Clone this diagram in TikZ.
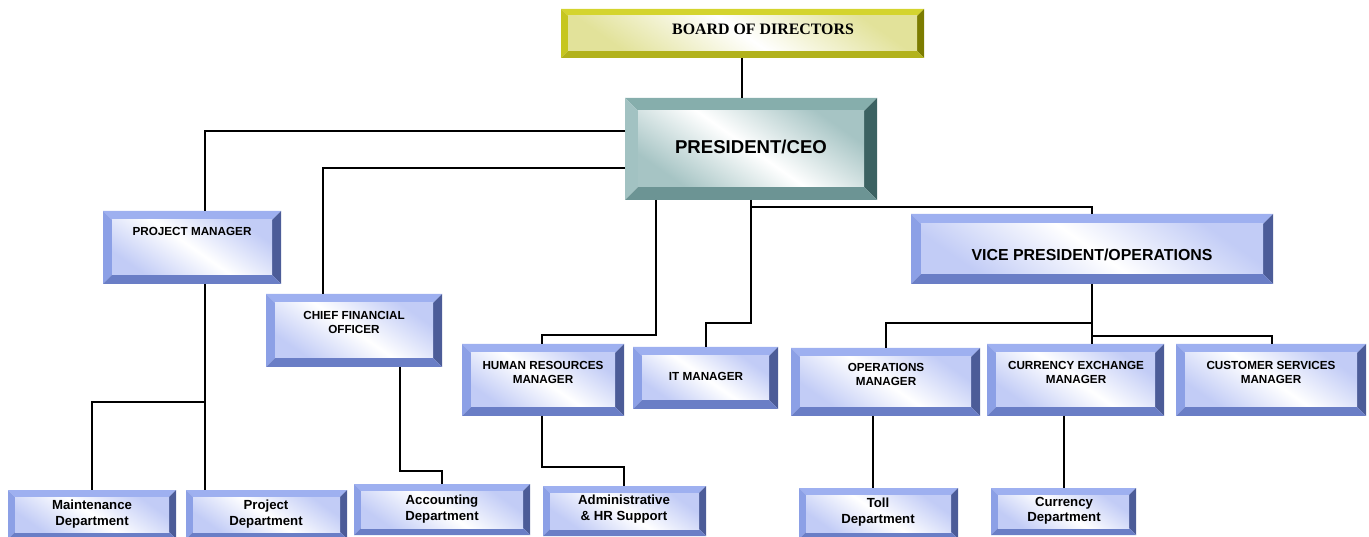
\documentclass[tikz,border=0pt]{standalone}
\usepackage{fontspec}
\setmainfont{Liberation Sans}
\newfontfamily\boardfont{Liberation Serif}
\definecolor{bltop}{HTML}{9EB0F0}
\definecolor{blleft}{HTML}{8CA0E6}
\definecolor{blright}{HTML}{4C5C98}
\definecolor{blbot}{HTML}{6A7EC6}
\definecolor{blface}{HTML}{C2CCF6}
\definecolor{tltop}{HTML}{86AEAC}
\definecolor{tlleft}{HTML}{A2C2C2}
\definecolor{tlright}{HTML}{3C6262}
\definecolor{tlbot}{HTML}{6C9494}
\definecolor{tlface}{HTML}{A6C4C4}
\definecolor{yltop}{HTML}{D4D42E}
\definecolor{ylleft}{HTML}{C6C620}
\definecolor{ylright}{HTML}{7C7C00}
\definecolor{ylbot}{HTML}{B2B21C}
\definecolor{ylface}{HTML}{E2E29A}
\newcommand{\bevbox}[7]{%
 \node[inner sep=0pt, outer sep=0pt, minimum width={(#4-#2)*1pt}, minimum height={(#5-#3)*1pt}] (#1) at ({(#2+#4)/2},{(#3+#5)/2}) {};
 \fill[#7top] (#2,#3) -- (#4,#3) -- (#4-#6,#3+#6) -- (#2+#6,#3+#6) -- cycle;
 \fill[#7left] (#2,#3) -- (#2+#6,#3+#6) -- (#2+#6,#5-#6) -- (#2,#5) -- cycle;
 \fill[#7right] (#4,#3) -- (#4,#5) -- (#4-#6,#5-#6) -- (#4-#6,#3+#6) -- cycle;
 \fill[#7bot] (#2,#5) -- (#2+#6,#5-#6) -- (#4-#6,#5-#6) -- (#4,#5) -- cycle;
 \shade[top color=#7face, bottom color=#7face, middle color=white, shading angle=-35] (#2+#6,#3+#6) rectangle (#4-#6,#5-#6);
}
\tikzset{
 conn/.style={draw=black, line width=2.2pt, line join=miter},
 mgr/.style={font=\bfseries\fontsize{11.7}{14}\selectfont, align=center, inner sep=0pt},
 dept/.style={font=\bfseries\fontsize{13.2}{15.5}\selectfont, align=center, inner sep=0pt},
 ceo/.style={font=\bfseries\fontsize{18.6}{22}\selectfont, inner sep=0pt},
 vpt/.style={font=\bfseries\fontsize{15.9}{19}\selectfont, inner sep=0pt},
 brd/.style={font=\boardfont\bfseries\fontsize{15.9}{19}\selectfont, inner sep=0pt}
}
\begin{document}
\begin{tikzpicture}[x=1pt,y=-1pt]
\useasboundingbox (0,0) rectangle (1369,537);
\clip (0,0) rectangle (1369,537);
% boxes
\bevbox{board}{561}{9}{924}{58}{7}{yl}
\bevbox{pres}{625}{98}{877}{200}{13}{tl}
\bevbox{pm}{103}{211}{281}{284}{9}{bl}
\bevbox{cfo}{266}{294}{442}{367}{9}{bl}
\bevbox{hr}{462}{344}{624}{416}{9}{bl}
\bevbox{it}{633}{347}{778}{409}{9}{bl}
\bevbox{vp}{911}{214}{1273}{284}{10}{bl}
\bevbox{ops}{791}{348}{980}{416}{9}{bl}
\bevbox{cem}{987}{344}{1164}{416}{9}{bl}
\bevbox{csm}{1176}{344}{1366}{416}{9}{bl}
\bevbox{maint}{8}{490}{176}{539}{7}{bl}
\bevbox{projd}{186}{490}{347}{539}{7}{bl}
\bevbox{acct}{354}{484}{530}{535}{7}{bl}
\bevbox{admin}{543}{486}{706}{536}{7}{bl}
\bevbox{toll}{799}{488}{958}{539}{7}{bl}
\bevbox{curd}{991}{488}{1136}{535}{7}{bl}
% texts
\node[brd] (board-t) at (763,29) {BOARD OF DIRECTORS};
\node[ceo] (pres-t) at (751,147) {PRESIDENT/CEO};
\node[mgr] (pm-t) at (192,231) {PROJECT MANAGER};
\node[mgr] (cfo-t) at (354,322) {CHIEF FINANCIAL\\OFFICER};
\node[mgr] (hr-t) at (543,372) {HUMAN RESOURCES\\MANAGER};
\node[mgr] (it-t) at (706,376) {IT MANAGER};
\node[vpt] (vp-t) at (1092,255) {VICE PRESIDENT/OPERATIONS};
\node[mgr] (ops-t) at (886,374) {OPERATIONS\\MANAGER};
\node[mgr] (cem-t) at (1076,372) {CURRENCY EXCHANGE\\MANAGER};
\node[mgr] (csm-t) at (1271,372) {CUSTOMER SERVICES\\MANAGER};
\node[dept] (maint-t) at (92,514) {Maintenance\\Department};
\node[dept] (projd-t) at (266,514) {Project\\Department};
\node[dept] (acct-t) at (442,509) {Accounting\\Department};
\node[dept] (admin-t) at (624,509) {Administrative\\\& HR Support};
\node[dept] (toll-t) at (878,512) {Toll\\Department};
\node[dept] (curd-t) at (1064,511) {Currency\\Department};
% junction coordinates
\coordinate (j1) at (742,0);
\coordinate (a1) at (205,131);
\coordinate (a2) at (323,168);
\coordinate (a3) at (205,402);
\coordinate (a4) at (92,402);
\coordinate (b1) at (400,471);
\coordinate (b2) at (442,471);
\coordinate (c1) at (656,335);
\coordinate (c2) at (542,335);
\coordinate (c3) at (542,467);
\coordinate (c4) at (624,467);
\coordinate (d1) at (751,323);
\coordinate (d2) at (706,323);
\coordinate (d3) at (751,207);
\coordinate (d4) at (1092,207);
\coordinate (e1) at (1092,323);
\coordinate (e2) at (886,323);
\coordinate (e3) at (1092,336);
\coordinate (e4) at (1272,336);
\coordinate (f1) at (873,0);
\coordinate (f2) at (1064,0);
% connectors
\draw[conn] (board.south -| j1) -- (pres.north -| j1);
\draw[conn] (pres.west |- a1) -- (a1) -- (pm.north -| a1);
\draw[conn] (pres.west |- a2) -- (a2) -- (cfo.north -| a2);
\draw[conn] (pm.south -| a3) -- (projd.north -| a3);
\draw[conn] (a3) -- (a4) -- (maint.north -| a4);
\draw[conn] (cfo.south -| b1) -- (b1) -- (b2) -- (acct.north -| b2);
\draw[conn] (pres.south -| c1) -- (c1) -- (c2) -- (hr.north -| c2);
\draw[conn] (hr.south -| c3) -- (c3) -- (c4) -- (admin.north -| c4);
\draw[conn] (pres.south -| d1) -- (d1) -- (d2) -- (it.north -| d2);
\draw[conn] (d3) -- (d4) -- (vp.north -| d4);
\draw[conn] (vp.south -| e1) -- (cem.north -| e1);
\draw[conn] (e1) -- (e2) -- (ops.north -| e2);
\draw[conn] (e3) -- (e4) -- (csm.north -| e4);
\draw[conn] (ops.south -| f1) -- (toll.north -| f1);
\draw[conn] (cem.south -| f2) -- (curd.north -| f2);
\end{tikzpicture}
\end{document}
